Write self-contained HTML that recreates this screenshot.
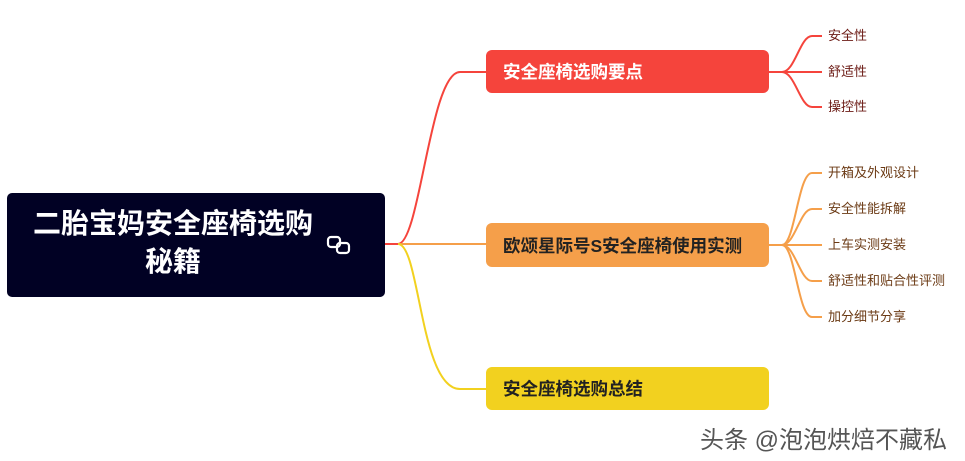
<!DOCTYPE html>
<html><head><meta charset="utf-8"><style>
body{margin:0;width:965px;height:461px;background:#fff;position:relative;overflow:hidden;font-family:"Liberation Sans","Noto Sans CJK SC",sans-serif}
.b{position:absolute;border-radius:6px;font-weight:bold;font-size:17.5px;display:flex;align-items:center;padding-left:17px;box-sizing:border-box}
.l{position:absolute;font-size:13px;line-height:16px}
</style></head><body>
<svg width="965" height="461" style="position:absolute;left:0;top:0" fill="none" stroke-width="2">
<path d="M385 244 H398 C420 244 430 72 460 72 H486" stroke="#f5443c"/>
<path d="M398 244 H486" stroke="#f59f4a"/>
<path d="M398 244 C420 244 420 389 460 389 H486" stroke="#f2d11f"/>
<g stroke="#f5443c"><path d="M769 72 H782"/>
<path d="M782 72 C795 72 800 36 812 36 H822"/><path d="M782 72 H822"/><path d="M782 72 C795 72 800 107 812 107 H822"/></g>
<g stroke="#f59f4a"><path d="M769 245 H782"/>
<path d="M782 245 C795 245 798 173 812 173 H822"/><path d="M782 245 C795 245 800 209 812 209 H822"/><path d="M782 245 H822"/><path d="M782 245 C795 245 800 281 812 281 H822"/><path d="M782 245 C795 245 798 317 812 317 H822"/></g>
</svg>
<div class="b" style="left:7px;top:191px;width:378px;height:104px;background:transparent;color:#fff;font-size:28px;justify-content:center;padding:0 58px 0 12px;text-align:center;line-height:38px;z-index:2">二胎宝妈安全座椅选购<br>秘籍</div>
<div style="position:absolute;left:7px;top:193px;width:378px;height:104px;background:#010124;border-radius:5px"></div>
<svg width="32" height="26" style="position:absolute;left:326px;top:234px;z-index:3" fill="none" stroke="#fff" stroke-width="2.2"><rect x="2" y="3" width="12" height="10" rx="3"/><rect x="11" y="9" width="12" height="10" rx="3"/></svg>
<div class="b" style="left:486px;top:50px;width:283px;height:43px;background:#f5443c;color:#fff">安全座椅选购要点</div>
<div class="b" style="left:486px;top:223px;width:283px;height:44px;background:#f59f4a;color:#222">欧颂星际号S安全座椅使用实测</div>
<div class="b" style="left:486px;top:367px;width:283px;height:43px;background:#f2d11f;color:#222">安全座椅选购总结</div>
<div class="l" style="left:828px;top:28px;color:#6b1a14">安全性</div>
<div class="l" style="left:828px;top:64px;color:#6b1a14">舒适性</div>
<div class="l" style="left:828px;top:99px;color:#6b1a14">操控性</div>
<div class="l" style="left:828px;top:165px;color:#6b3a14">开箱及外观设计</div>
<div class="l" style="left:828px;top:201px;color:#6b3a14">安全性能拆解</div>
<div class="l" style="left:828px;top:237px;color:#6b3a14">上车实测安装</div>
<div class="l" style="left:828px;top:273px;color:#6b3a14">舒适性和贴合性评测</div>
<div class="l" style="left:828px;top:309px;color:#6b3a14">加分细节分享</div>
<div style="position:absolute;left:700px;top:420px;font-size:24px;color:#555">头条 @泡泡烘焙不藏私</div>
</body></html>
